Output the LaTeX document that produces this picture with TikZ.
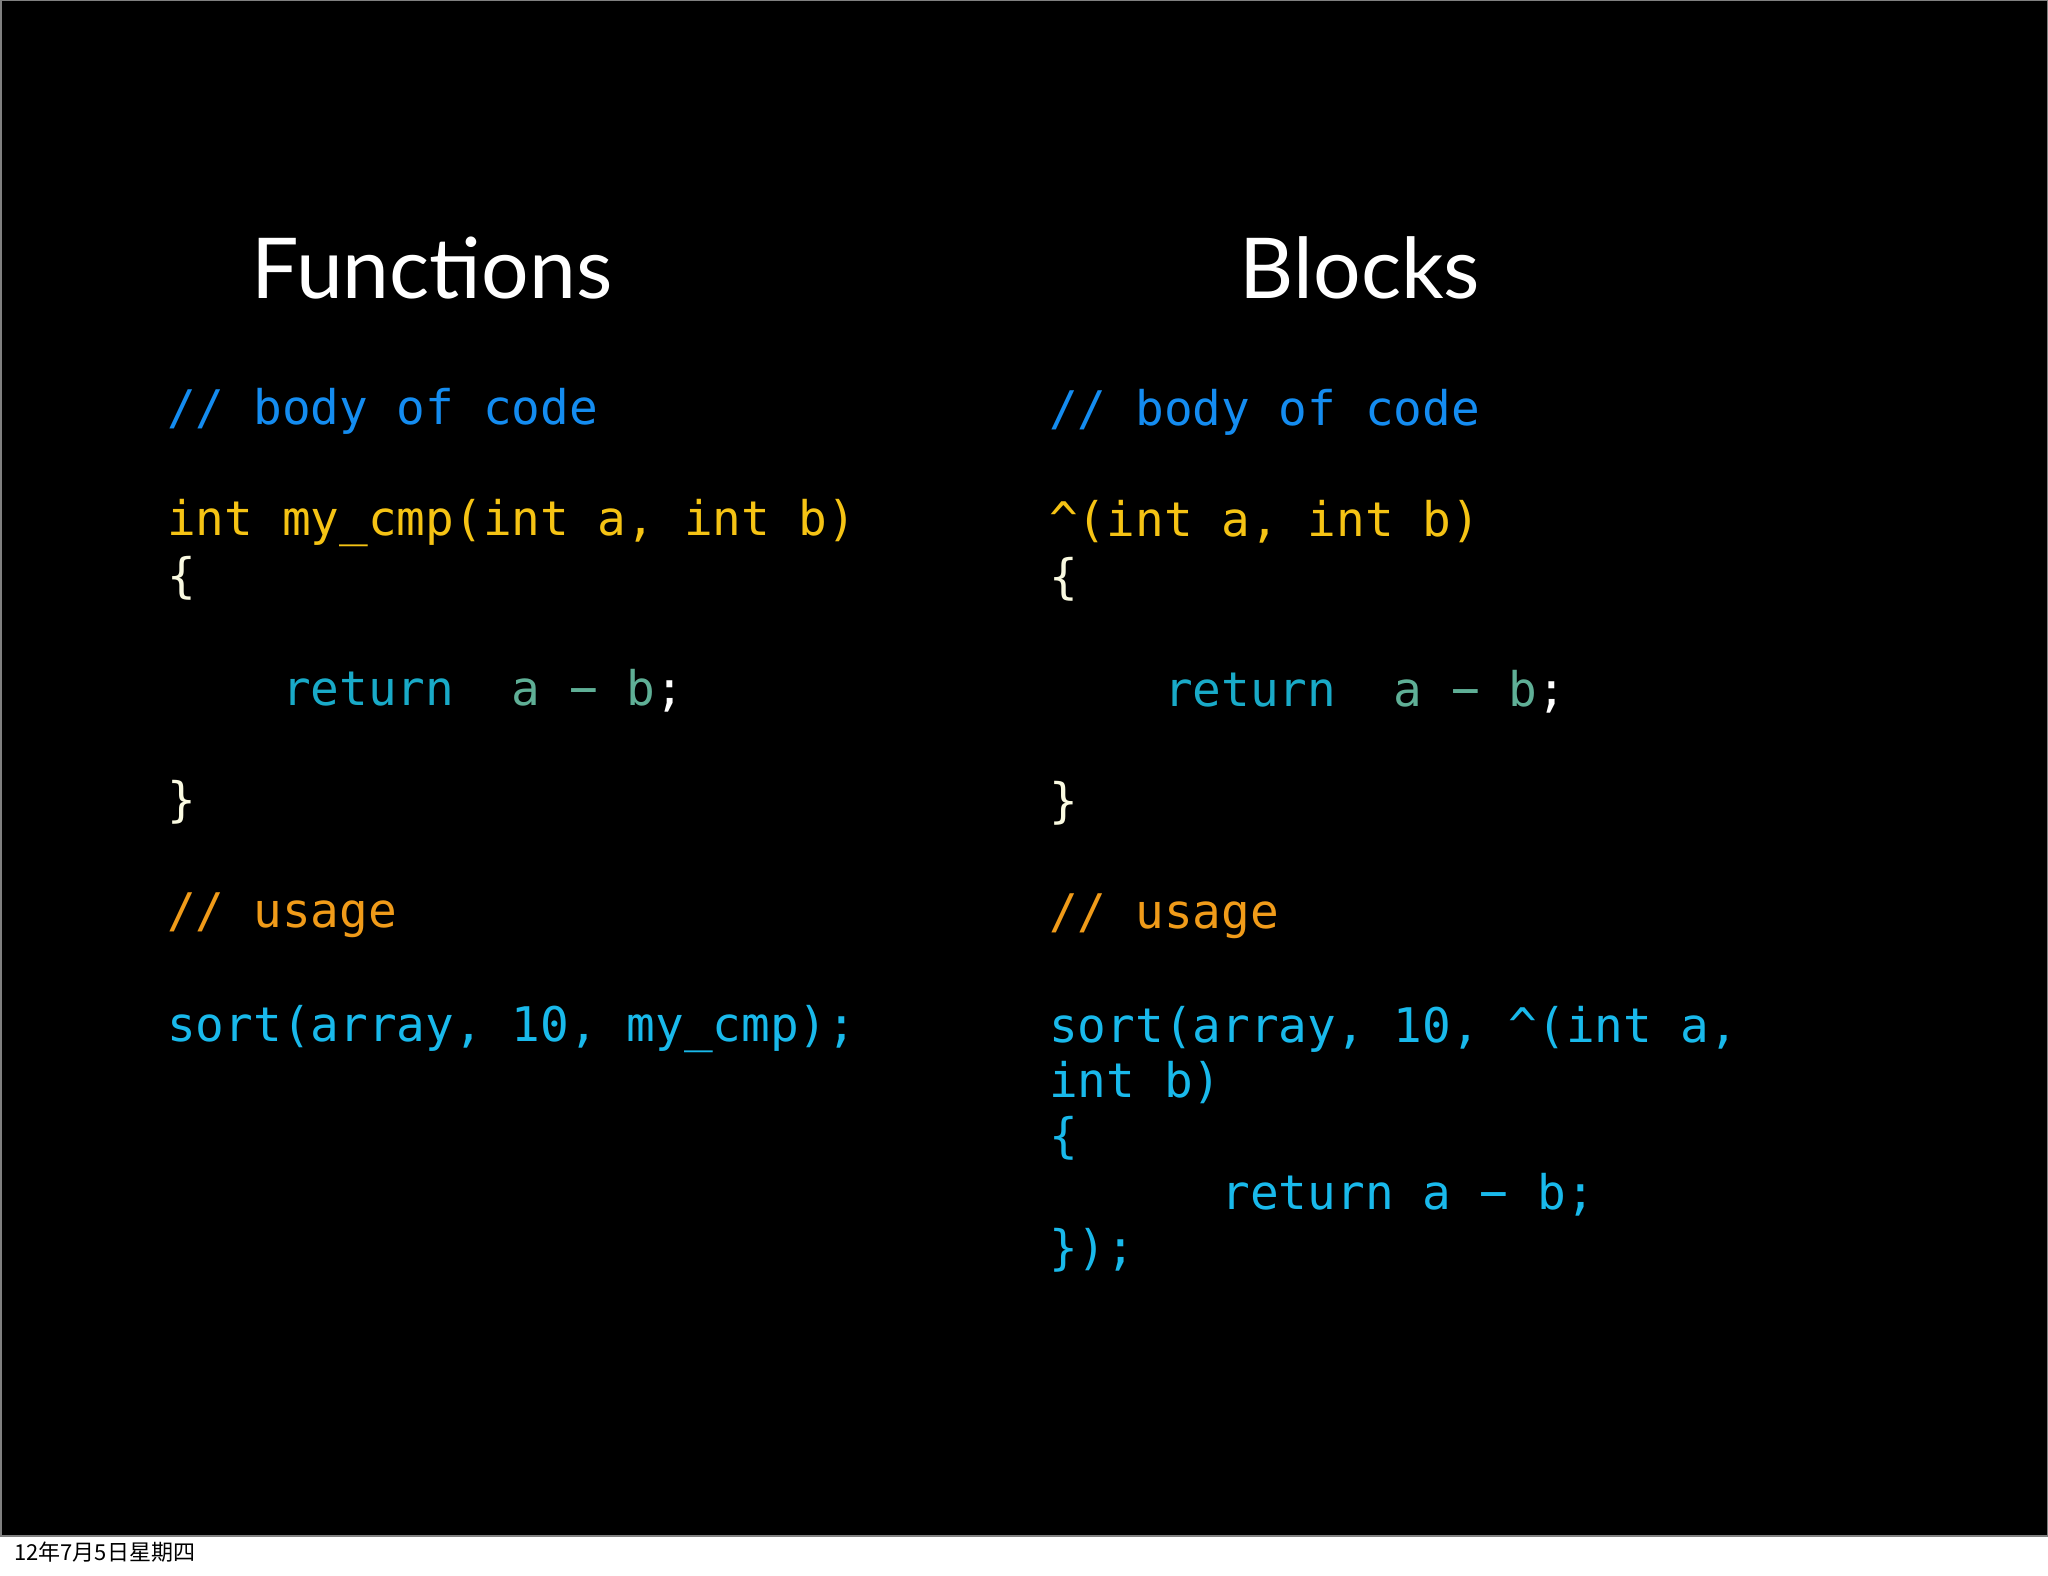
\documentclass[tikz,border=0pt]{standalone}
\usepackage{fontspec}
\setmainfont{Lato}
\setmonofont{DejaVu Sans Mono}
\newfontfamily\cjk{Noto Sans CJK SC}
\definecolor{cblue}{RGB}{20,140,240}
\definecolor{cyel}{RGB}{245,195,20}
\definecolor{cret}{RGB}{25,170,200}
\definecolor{cab}{RGB}{95,175,150}
\definecolor{corg}{RGB}{240,155,25}
\definecolor{ccyan}{RGB}{25,185,235}
\definecolor{cbr}{RGB}{250,250,225}
\tikzset{code/.style={anchor=base west,inner sep=0pt,font=\ttfamily\fontsize{47.7}{56}\selectfont},
title/.style={anchor=base,inner sep=0pt,text=white,font=\fontsize{84}{90}\selectfont}}
\begin{document}
\begin{tikzpicture}[x=1pt,y=-1pt]
\useasboundingbox (0,0) rectangle (2048,1576);
\fill[white] (0,0) rectangle (2048,1576);
\fill[black] (0,0) rectangle (2048,1536);
\draw[gray,line width=1.5pt] (0.75,0.75) rectangle (2047.25,1536);
\node[title] (t1) at (432,298) {Functions};
\node[title] (t2) at (1360,298) {Blocks};
% left
\node[code,text=cblue] (l1) at (167,424) {// body of code};
\node[code,text=cyel] (l2) at (167,535) {int my\_cmp(int a, int b)};
\node[code,text=cbr] (l3) at (167,592) {\{};
\node[code] (l4) at (167,705) {\textcolor{cret}{\ \ \ \ return}\ \ \textcolor{cab}{a − b}\textcolor{white}{;}};
\node[code,text=cbr] (l5) at (167,816) {\}};
\node[code,text=corg] (l6) at (167,927) {// usage};
\node[code,text=ccyan] (l7) at (167,1041) {sort(array, 10, my\_cmp);};
% right
\node[code,text=cblue] (r1) at (1049,425) {// body of code};
\node[code,text=cyel] (r2) at (1049,536) {\^{}(int a, int b)};
\node[code,text=cbr] (r3) at (1049,593) {\{};
\node[code] (r4) at (1049,706) {\textcolor{cret}{\ \ \ \ return}\ \ \textcolor{cab}{a − b}\textcolor{white}{;}};
\node[code,text=cbr] (r5) at (1049,817) {\}};
\node[code,text=corg] (r6) at (1049,928) {// usage};
\node[code,text=ccyan] (r7) at (1049,1042) {sort(array, 10, \^{}(int a,};
\node[code,text=ccyan] (r8) at (1049,1097) {int b)};
\node[code,text=ccyan] (r9) at (1049,1152) {\{};
\node[code,text=ccyan] (r10) at (1049,1209) {\ \ \ \ \ \ return a − b;};
\node[code,text=ccyan] (r11) at (1049,1264) {\});};
\node[anchor=base west,inner sep=0pt,font=\cjk\fontsize{22}{24}\selectfont] (d) at (14,1560) {12年7月5日星期四};
\end{tikzpicture}
\end{document}
